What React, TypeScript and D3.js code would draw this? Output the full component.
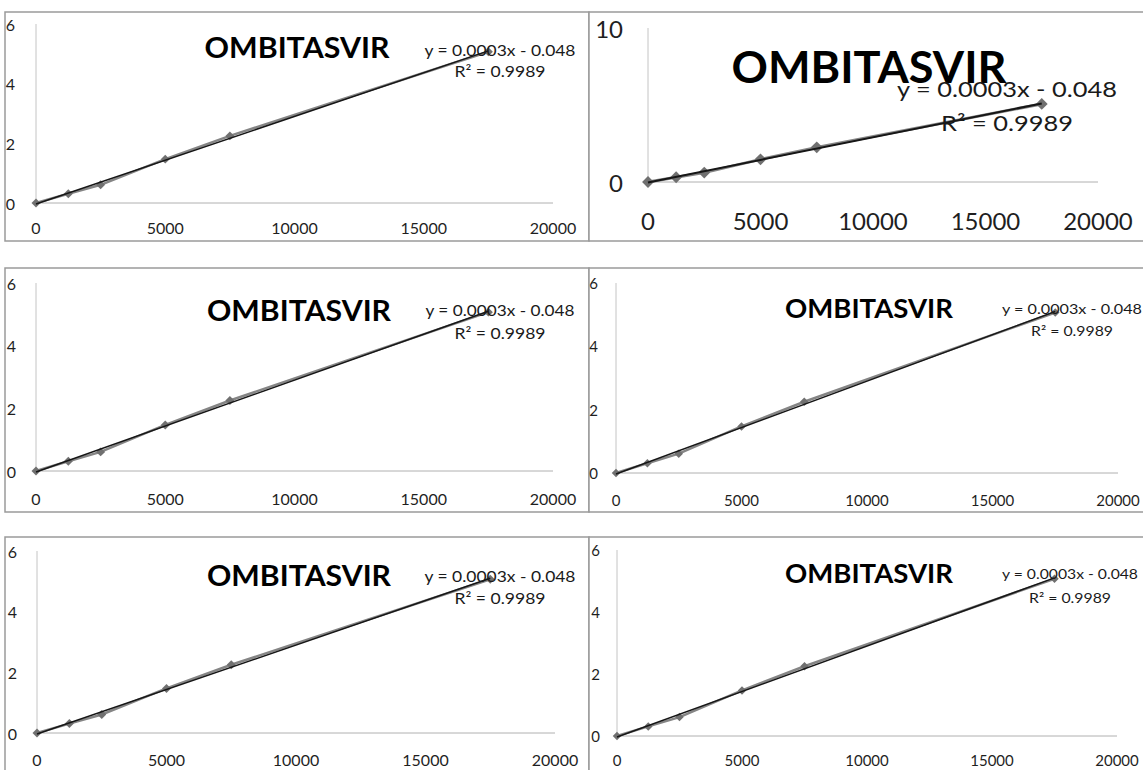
import React from "react";
import * as d3 from "d3";

// ---- data ----
const concentrations = [0, 1250, 2500, 5000, 7500, 17500];
const responses = [0, 0.31, 0.61, 1.47, 2.25, 5.07];
const xTicks = [0, 5000, 10000, 15000, 20000];
const yTicksSmall = [0, 2, 4, 6];
const yTicksLarge = [0, 10];
const chartTitle = "OMBITASVIR";
const equationText = "y = 0.0003x - 0.048";
const r2Text = "R\u00B2 = 0.9989";

type Cfg = {
  box: [number, number, number, number];
  plot: { left: number; right: number; top: number; bottom: number };
  yMax: number;
  yTicks: number[];
  yLabelRight: number;
  xLabelY: number;
  tickFont: number;
  title: { cx: number; cy: number; size: number; width: number };
  eq: { cx: number; cy: number; r2y: number; size: number; width: number; r2width: number };
  marker: number;
  dataWidth: number;
  trendWidth: number;
};

const panels: Cfg[] = [
  {
    box: [5, 12, 584, 229],
    plot: { left: 36, right: 553, top: 24, bottom: 203 },
    yMax: 6, yTicks: yTicksSmall, yLabelRight: 15, xLabelY: 227, tickFont: 16,
    title: { cx: 297, cy: 47, size: 28, width: 185 },
    eq: { cx: 500, cy: 50, r2y: 71, size: 15, width: 151, r2width: 91 },
    marker: 40, dataWidth: 2.5, trendWidth: 1.5,
  },
  {
    box: [589, 12, 560, 229],
    plot: { left: 648, right: 1098, top: 28, bottom: 182 },
    yMax: 10, yTicks: yTicksLarge, yLabelRight: 623, xLabelY: 220, tickFont: 24,
    title: { cx: 869, cy: 66, size: 44, width: 275 },
    eq: { cx: 1007, cy: 88, r2y: 122, size: 22, width: 220, r2width: 132 },
    marker: 70, dataWidth: 3, trendWidth: 2,
  },
  {
    box: [5, 268, 584, 244],
    plot: { left: 36, right: 553, top: 283, bottom: 471 },
    yMax: 6, yTicks: yTicksSmall, yLabelRight: 16, xLabelY: 498, tickFont: 16,
    title: { cx: 299, cy: 310, size: 28, width: 184 },
    eq: { cx: 500, cy: 310, r2y: 333, size: 15, width: 149, r2width: 91 },
    marker: 40, dataWidth: 2.5, trendWidth: 1.5,
  },
  {
    box: [589, 268, 560, 244],
    plot: { left: 616, right: 1118, top: 283, bottom: 473 },
    yMax: 6, yTicks: yTicksSmall, yLabelRight: 598, xLabelY: 500, tickFont: 15,
    title: { cx: 869, cy: 308, size: 26, width: 168 },
    eq: { cx: 1072, cy: 308, r2y: 330, size: 14, width: 140, r2width: 82 },
    marker: 36, dataWidth: 2.5, trendWidth: 1.5,
  },
  {
    box: [5, 537, 584, 240],
    plot: { left: 37, right: 555, top: 551, bottom: 733 },
    yMax: 6, yTicks: yTicksSmall, yLabelRight: 17, xLabelY: 759, tickFont: 16,
    title: { cx: 299, cy: 575, size: 28, width: 184 },
    eq: { cx: 500, cy: 576, r2y: 598, size: 15, width: 151, r2width: 91 },
    marker: 40, dataWidth: 2.5, trendWidth: 1.5,
  },
  {
    box: [589, 537, 560, 240],
    plot: { left: 617, right: 1117, top: 550, bottom: 736 },
    yMax: 6, yTicks: yTicksSmall, yLabelRight: 600, xLabelY: 760, tickFont: 15,
    title: { cx: 869, cy: 573, size: 26, width: 168 },
    eq: { cx: 1070, cy: 573, r2y: 597, size: 14, width: 136, r2width: 82 },
    marker: 36, dataWidth: 2.5, trendWidth: 1.5,
  },
];

function linearFit(xs: number[], ys: number[]) {
  const mx = d3.mean(xs) as number;
  const my = d3.mean(ys) as number;
  let sxy = 0, sxx = 0;
  xs.forEach((x, i) => {
    sxy += (x - mx) * (ys[i] - my);
    sxx += (x - mx) * (x - mx);
  });
  const slope = sxy / sxx;
  return { slope, intercept: my - slope * mx };
}

const FONT = "Lato, 'Open Sans', sans-serif";

function Panel({ c }: { c: Cfg }) {
  const x = d3.scaleLinear().domain([0, 20000]).range([c.plot.left, c.plot.right]);
  const y = d3.scaleLinear().domain([0, c.yMax]).range([c.plot.bottom, c.plot.top]);
  const pts = concentrations.map((v, i) => [v, responses[i]] as [number, number]);
  const line = d3.line<[number, number]>().x((d) => x(d[0])).y((d) => y(d[1]));
  const fit = linearFit(concentrations, responses);
  const x0 = d3.min(concentrations) as number;
  const x1 = d3.max(concentrations) as number;
  const trend: [number, number][] = [
    [x0, fit.intercept + fit.slope * x0],
    [x1, fit.intercept + fit.slope * x1],
  ];
  const diamond = d3.symbol().type(d3.symbolSquare).size(c.marker)() as string;
  const [bx, by, bw, bh] = c.box;
  return (
    <g>
      <rect x={bx} y={by} width={bw} height={bh} fill="#fff" stroke="#9a9a9a" strokeWidth={1.5} />
      <line x1={x(0)} x2={x(0)} y1={y(c.yMax)} y2={y(0)} stroke="#c4c4c4" strokeWidth={1} />
      <line x1={x(0)} x2={x(20000)} y1={y(0)} y2={y(0)} stroke="#b0b0b0" strokeWidth={1} />
      {c.yTicks.map((t) => (
        <text key={"y" + t} x={c.yLabelRight} y={y(t)} textAnchor="end" dominantBaseline="central"
          fontFamily={FONT} fontSize={c.tickFont} fill="#1f1f1f">{t}</text>
      ))}
      {xTicks.map((t) => (
        <text key={"x" + t} x={x(t)} y={c.xLabelY} textAnchor="middle" dominantBaseline="central"
          fontFamily={FONT} fontSize={c.tickFont} fill="#1f1f1f">{t}</text>
      ))}
      <text x={c.title.cx} y={c.title.cy} textAnchor="middle" dominantBaseline="central"
        fontFamily={FONT} fontWeight={700} fontSize={c.title.size} fill="#000"
        textLength={c.title.width} lengthAdjust="spacingAndGlyphs">{chartTitle}</text>
      <path d={line(pts) as string} fill="none" stroke="#858585" strokeWidth={c.dataWidth} />
      {pts.map((p, i) => (
        <path key={i} d={diamond} transform={`translate(${x(p[0])},${y(p[1])}) rotate(45)`} fill="#707070" />
      ))}
      <path d={line(trend) as string} fill="none" stroke="#161616" strokeWidth={c.trendWidth} />
      <text x={c.eq.cx} y={c.eq.cy} textAnchor="middle" dominantBaseline="central"
        fontFamily={FONT} fontSize={c.eq.size} fill="#1a1a1a"
        textLength={c.eq.width} lengthAdjust="spacingAndGlyphs">{equationText}</text>
      <text x={c.eq.cx} y={c.eq.r2y} textAnchor="middle" dominantBaseline="central"
        fontFamily={FONT} fontSize={c.eq.size} fill="#1a1a1a"
        textLength={c.eq.r2width} lengthAdjust="spacingAndGlyphs">{r2Text}</text>
    </g>
  );
}

export default function App() {
  return (
    <svg width={1143} height={770} viewBox="0 0 1143 770"
      style={{ position: "absolute", left: 0, top: 0, background: "#fff" }}>
      <rect x={0} y={0} width={1143} height={770} fill="#fff" />
      {panels.map((c, i) => (
        <Panel key={i} c={c} />
      ))}
    </svg>
  );
}
